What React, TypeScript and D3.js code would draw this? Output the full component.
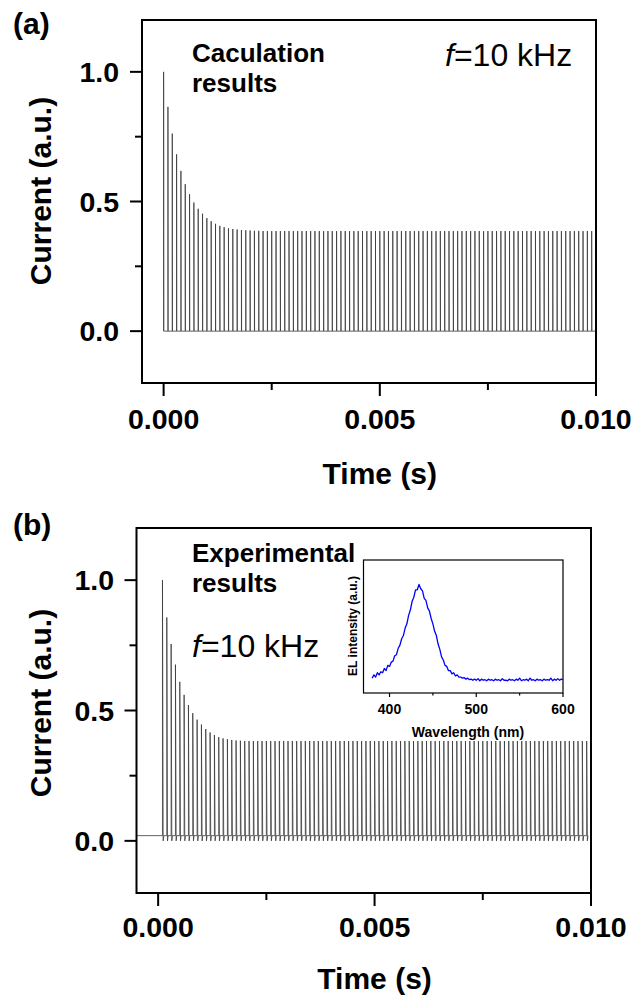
import React from "react";
import * as d3 from "d3";

// ---------- data ----------
const PERIOD = 0.0001; // 10 kHz
const calcPeaks: number[] = [
  1.0, 0.865, 0.762, 0.682, 0.618, 0.567, 0.528, 0.496, 0.472, 0.453,
  0.436, 0.424, 0.414, 0.406, 0.401, 0.397, 0.394, 0.392, 0.39, 0.389,
  0.388, 0.387, 0.387, 0.386, 0.386, 0.386, 0.386, 0.386, 0.386, 0.386,
  0.386, 0.386, 0.386, 0.386, 0.386, 0.386, 0.386, 0.386, 0.386, 0.386,
  0.386, 0.386, 0.386, 0.386, 0.386, 0.386, 0.386, 0.386, 0.386, 0.386,
  0.386, 0.386, 0.386, 0.386, 0.386, 0.386, 0.386, 0.386, 0.386, 0.386,
  0.386, 0.386, 0.386, 0.386, 0.386, 0.386, 0.386, 0.386, 0.386, 0.386,
  0.386, 0.386, 0.386, 0.386, 0.386, 0.386, 0.386, 0.386, 0.386, 0.386,
  0.386, 0.386, 0.386, 0.386, 0.386, 0.386, 0.386, 0.386, 0.386, 0.386,
  0.386, 0.386, 0.386, 0.386, 0.386, 0.386, 0.386, 0.386, 0.386, 0.386,
];
const expPeaks: number[] = [
  1.0, 0.857, 0.755, 0.676, 0.61, 0.56, 0.521, 0.49, 0.465, 0.446,
  0.429, 0.416, 0.406, 0.398, 0.393, 0.39, 0.387, 0.385, 0.384, 0.383,
  0.383, 0.383, 0.383, 0.383, 0.383, 0.383, 0.383, 0.383, 0.383, 0.383,
  0.383, 0.383, 0.383, 0.383, 0.383, 0.383, 0.383, 0.383, 0.383, 0.383,
  0.383, 0.383, 0.383, 0.383, 0.383, 0.383, 0.383, 0.383, 0.383, 0.383,
  0.383, 0.383, 0.383, 0.383, 0.383, 0.383, 0.383, 0.383, 0.383, 0.383,
  0.383, 0.383, 0.383, 0.383, 0.383, 0.383, 0.383, 0.383, 0.383, 0.383,
  0.383, 0.383, 0.383, 0.383, 0.383, 0.383, 0.383, 0.383, 0.383, 0.383,
  0.383, 0.383, 0.383, 0.383, 0.383, 0.383, 0.383, 0.383, 0.383, 0.383,
  0.383, 0.383, 0.383, 0.383, 0.383, 0.383, 0.383, 0.383, 0.383,
];
const expBaseline = 0.02;
const expDip = 0.0;

const xTicksMajor = [0, 0.005, 0.01];
const xTicksMinor = [0.0025, 0.0075];
const yTicksMajor = [0, 0.5, 1.0];
const yTicksMinor = [0.25, 0.75];

const specStart = 380;
const specStep = 2;
const specValues: number[] = [
  0.14, 0.17, 0.15, 0.19, 0.17, 0.2, 0.19, 0.23, 0.21, 0.26,
  0.25, 0.29, 0.3, 0.35, 0.36, 0.42, 0.45, 0.51, 0.54, 0.61,
  0.65, 0.73, 0.78, 0.86, 0.9, 0.97, 0.97, 1.02, 0.98, 0.96,
  0.89, 0.87, 0.8, 0.77, 0.7, 0.65, 0.58, 0.54, 0.46, 0.41,
  0.34, 0.31, 0.26, 0.25, 0.21, 0.21, 0.18, 0.19, 0.16, 0.17,
  0.15, 0.15, 0.14, 0.145, 0.13, 0.14, 0.125, 0.13, 0.12, 0.13,
  0.12, 0.135, 0.115, 0.13, 0.12, 0.125, 0.115, 0.13, 0.12, 0.125,
  0.115, 0.13, 0.12, 0.125, 0.115, 0.135, 0.12, 0.12, 0.115, 0.13,
  0.12, 0.125, 0.115, 0.13, 0.12, 0.14, 0.115, 0.125, 0.12, 0.13,
  0.115, 0.14, 0.12, 0.125, 0.115, 0.13, 0.12, 0.125, 0.115, 0.13,
  0.12, 0.125, 0.12, 0.14, 0.115, 0.13, 0.12, 0.135, 0.12, 0.13,
  0.125,
];
const specTicksMajor = [400, 500, 600];
const specTicksMinor = [450, 550];

const FONT = "'Liberation Sans', Arial, Helvetica, sans-serif";

type PanelProps = {
  left: number; right: number; top: number; bottom: number;
  pathD: string | null;
  xs: d3.ScaleLinear<number, number>;
  ys: d3.ScaleLinear<number, number>;
  tickLabelBase: number; titleBase: number; yLabelRight: number;
  yTitleX: number; yTitleY: number;
};

function Frame(p: PanelProps) {
  const { left, right, top, bottom, xs, ys } = p;
  return (
    <g>
      <path d={p.pathD || ""} fill="none" stroke="#3a3a3a" strokeWidth={0.8} />
      <rect x={left} y={top} width={right - left} height={bottom - top} fill="none" stroke="#000" strokeWidth={2} />
      {xTicksMajor.map((t) => (
        <g key={"xm" + t}>
          <line x1={xs(t)} x2={xs(t)} y1={bottom} y2={bottom + 13} stroke="#000" strokeWidth={2} />
          <text x={xs(t)} y={p.tickLabelBase} textAnchor="middle" fontFamily={FONT} fontWeight="bold" fontSize={28.5}>
            {d3.format(".3f")(t)}
          </text>
        </g>
      ))}
      {xTicksMinor.map((t) => (
        <line key={"xn" + t} x1={xs(t)} x2={xs(t)} y1={bottom} y2={bottom + 7} stroke="#000" strokeWidth={2} />
      ))}
      {yTicksMajor.map((t) => (
        <g key={"ym" + t}>
          <line x1={left} x2={left - 12} y1={ys(t)} y2={ys(t)} stroke="#000" strokeWidth={2} />
          <text x={p.yLabelRight} y={ys(t) + 10} textAnchor="end" fontFamily={FONT} fontWeight="bold" fontSize={28.5}>
            {d3.format(".1f")(t)}
          </text>
        </g>
      ))}
      {yTicksMinor.map((t) => (
        <line key={"yn" + t} x1={left} x2={left - 7} y1={ys(t)} y2={ys(t)} stroke="#000" strokeWidth={2} />
      ))}
      <text x={(xs(0) + xs(0.01)) / 2} y={p.titleBase} textAnchor="middle" fontFamily={FONT} fontWeight="bold" fontSize={30}>
        Time (s)
      </text>
      <text transform={`translate(${p.yTitleX},${p.yTitleY}) rotate(-90)`} textAnchor="middle" fontFamily={FONT} fontWeight="bold" fontSize={30}>
        Current (a.u.)
      </text>
    </g>
  );
}

export default function App() {
  // Panel (a)
  const aL = 142, aR = 596, aT = 20, aB = 383;
  const xa = d3.scaleLinear().domain([-0.0005, 0.01]).range([aL, aR]);
  const ya = d3.scaleLinear().domain([-0.2, 1.2]).range([aB, aT]);
  const ptsA: [number, number][] = [];
  calcPeaks.forEach((h, k) => {
    const t = k * PERIOD;
    ptsA.push([t, 0], [t, h], [t + 0.000004, 0]);
  });
  ptsA.push([0.01, 0]);
  const lineA = d3.line<[number, number]>().x((d) => xa(d[0])).y((d) => ya(d[1]));

  // Panel (b)
  const bL = 136.5, bR = 591, bT = 528, bB = 893;
  const xb = d3.scaleLinear().domain([-0.0005, 0.01]).range([bL, bR]);
  const yb = d3.scaleLinear().domain([-0.2, 1.2]).range([bB, bT]);
  const ptsB: [number, number][] = [[-0.0005, expBaseline]];
  expPeaks.forEach((h, i) => {
    const t = (i + 1) * PERIOD;
    ptsB.push([t, expBaseline], [t, h], [t + 0.000016, expDip], [t + 0.00003, expBaseline]);
  });
  const lineB = d3.line<[number, number]>().x((d) => xb(d[0])).y((d) => yb(d[1]));

  // Inset
  const iL = 363.5, iR = 563, iT = 560, iB = 693;
  const xi = d3.scaleLinear().domain([370, 600]).range([iL, iR]);
  const yi = d3.scaleLinear().domain([0, 1.25]).range([iB, iT]);
  const specPts: [number, number][] = specValues.map((v, i) => [specStart + i * specStep, v]);
  const lineI = d3.line<[number, number]>().x((d) => xi(d[0])).y((d) => yi(d[1]));

  return (
    <svg width={634} height={998} style={{ position: "absolute", left: 0, top: 0, background: "#fff" }}>
      <rect x={0} y={0} width={634} height={998} fill="#fff" />
      <Frame left={aL} right={aR} top={aT} bottom={aB} xs={xa} ys={ya} pathD={lineA(ptsA)}
        tickLabelBase={429} titleBase={484} yLabelRight={119} yTitleX={51} yTitleY={191} />
      <Frame left={bL} right={bR} top={bT} bottom={bB} xs={xb} ys={yb} pathD={lineB(ptsB)}
        tickLabelBase={937} titleBase={989} yLabelRight={114} yTitleX={51} yTitleY={703} />

      <text x={13} y={34} fontFamily={FONT} fontWeight="bold" fontSize={30}>(a)</text>
      <text x={13} y={535} fontFamily={FONT} fontWeight="bold" fontSize={30}>(b)</text>

      <text fontFamily={FONT} fontWeight="bold" fontSize={26}>
        <tspan x={192} y={62}>Caculation</tspan>
        <tspan x={192} y={92}>results</tspan>
      </text>
      <text x={445} y={66} fontFamily={FONT} fontSize={32}>
        <tspan fontStyle="italic">f</tspan>=10 kHz
      </text>

      <text fontFamily={FONT} fontWeight="bold" fontSize={26}>
        <tspan x={192} y={562}>Experimental</tspan>
        <tspan x={192} y={592}>results</tspan>
      </text>
      <text x={192} y={657} fontFamily={FONT} fontSize={32}>
        <tspan fontStyle="italic">f</tspan>=10 kHz
      </text>

      {/* Inset */}
      <g>
        <rect x={iL} y={iT} width={iR - iL} height={iB - iT} fill="#fff" stroke="#000" strokeWidth={1.2} />
        <path d={lineI(specPts) || ""} fill="none" stroke="#0000ff" strokeWidth={1.3} strokeLinejoin="round" />
        {specTicksMajor.map((t) => (
          <g key={"sm" + t}>
            <line x1={xi(t)} x2={xi(t)} y1={iB} y2={iB + 4} stroke="#000" strokeWidth={1.2} />
            <text x={xi(t)} y={714} textAnchor="middle" fontFamily={FONT} fontWeight="bold" fontSize={14}>{t}</text>
          </g>
        ))}
        {specTicksMinor.map((t) => (
          <line key={"sn" + t} x1={xi(t)} x2={xi(t)} y1={iB} y2={iB + 2.5} stroke="#000" strokeWidth={1.2} />
        ))}
        <text x={468} y={737} textAnchor="middle" fontFamily={FONT} fontWeight="bold" fontSize={14}>Wavelength (nm)</text>
        <text transform={`translate(357,626) rotate(-90)`} textAnchor="middle" fontFamily={FONT} fontWeight="bold" fontSize={12}>
          EL intensity (a.u.)
        </text>
      </g>
    </svg>
  );
}
